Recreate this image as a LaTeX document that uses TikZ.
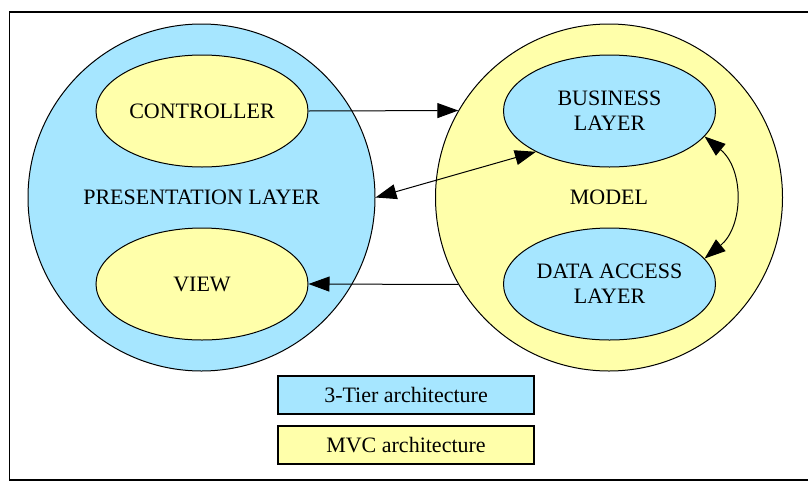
\documentclass[tikz,border=0pt]{standalone}
\definecolor{tier}{RGB}{166,230,255}
\definecolor{mvc}{RGB}{255,255,170}
\usepackage{fontspec}
\setmainfont{Liberation Serif}
\usepackage{tikz}
\usetikzlibrary{
	arrows.meta,
	positioning,
	shapes.geometric
}
\tikzset{
  % arrow
	cstra/.style      ={-{Triangle[length=21pt,width=15pt]}, line width=1pt},   % right arrow
	cstlra/.style     ={{Triangle[length=21pt,width=15pt]}-{Triangle[length=21pt,width=15pt]}, line width=1pt}, % left-right arrow
  % frame
	cstframe/.style   ={line width=1.5pt},
  % node
	cstlayer/.style   ={circle,draw=black,line width=1pt,minimum size=347pt,inner sep=0pt},
	cstpart/.style    ={ellipse,draw=black,line width=1pt,minimum width=212pt,minimum height=112pt,inner sep=0pt,align=center},
	cstkey/.style     ={rectangle,draw=black,line width=1.2pt,minimum width=256pt,minimum height=38pt,inner sep=0pt}
}
\begin{document}
\begin{tikzpicture}[x=1pt,y=-1pt,every node/.style={font=\fontsize{22}{25}\selectfont}]
	\useasboundingbox (0,0) rectangle (808,485);
	\draw[cstframe] (812,12) -- (9.5,12) -- (9.5,480) -- (812,480);
	% layers
	\node[cstlayer,fill=tier] (presentation) at (201.5,197.5) {PRESENTATION LAYER};
	\node[cstlayer,fill=mvc] (model) at (609,197.5) {MODEL};
	\node[cstpart,fill=mvc] (controller) at (202,111) {CONTROLLER};
	\node[cstpart,fill=mvc] (view) at (202,284) {VIEW};
	\node[cstpart,fill=tier] (business) at (609.5,111) {BUSINESS\\LAYER};
	\node[cstpart,fill=tier] (dataaccess) at (609.5,284) {DATA ACCESS\\LAYER};
	% key
	\node[cstkey,fill=tier] (tierkey) at (406,395) {3-Tier architecture};
	\node[cstkey,fill=mvc] (mvckey) at (406,445) {MVC architecture};
	% arrows
	\draw[cstra] (controller.east) -- (model.150);
	\draw[cstlra] (presentation.east) -- (business.209);
	\draw[cstra] (model.210) -- (view.east);
	\draw[cstlra] (business.-15) .. controls +(40,33) and +(39,-32) .. (dataaccess.15);
\end{tikzpicture}
\end{document}
